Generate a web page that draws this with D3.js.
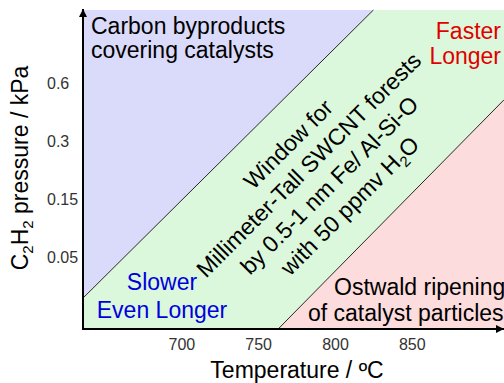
<!DOCTYPE html>
<html>
<head>
<meta charset="utf-8">
<script src="https://cdn.jsdelivr.net/npm/d3@7"></script>
<style>
  body { margin: 0; background: #fff; }
  svg { display: block; font-family: "Liberation Sans", Arial, sans-serif; }
</style>
</head>
<body>
<svg id="chart" width="504" height="383"></svg>
<script>
// growth window for mm-tall SWCNT forests: temperature vs C2H2 pressure
const tempTicks = [700, 750, 800, 850];
const tempRange = [636, 910];
// the pressure labels sit at even steps, so y runs on the label index
const pressureLabels = ["0.05", "0.15", "0.3", "0.6"];
const levelRange = [-1.22, 4.25];
// region edges as [temperature, pressure level]
const byproductEdge = [[636, -0.69], [825, 4.25]];
const ripeningEdge = [[763, -1.22], [910, 2.71]];

class RegimeChart {
  /* ===================================
   *  CONSTRUCTOR
   * =================================== */
  constructor(selector) {
    this.svg = d3.select(selector);
    this.left = 83;
    this.right = 504;
    this.top = 10;
    this.bottom = 329;
    this.big = 23;

    this.x = d3.scaleLinear().domain(tempRange).range([this.left, this.right]);
    this.y = d3.scaleLinear().domain(levelRange).range([this.bottom, this.top]);

    this.DrawRegions();
    this.DrawAxes();
    this.DrawLabels();
  }

  /* ===================================
   *  METHODS
   * =================================== */
  DrawRegions() {
    const [t0, t1] = tempRange;
    const [l0, l1] = levelRange;
    const a = byproductEdge;
    const b = ripeningEdge;

    const regions = [
      { fill: "#dadafa", pts: [[t0, l1], a[0], a[1]] },
      { fill: "#dcf8dc", pts: [[t0, l0], a[0], a[1], [t1, l1], b[1], b[0]] },
      { fill: "#fcdcdc", pts: [b[0], b[1], [t1, l0]] },
    ];

    const line = d3
      .line()
      .x((d) => this.x(d[0]))
      .y((d) => this.y(d[1]));

    this.svg
      .append("g")
      .selectAll("path")
      .data(regions)
      .join("path")
      .attr("d", (d) => line(d.pts) + "Z")
      .attr("fill", (d) => d.fill);

    this.svg
      .append("g")
      .selectAll("path")
      .data([byproductEdge, ripeningEdge])
      .join("path")
      .attr("d", line)
      .attr("fill", "none")
      .attr("stroke", "#111")
      .attr("stroke-width", 0.9);
  }

  DrawAxes() {
    const defs = this.svg.append("defs");
    defs
      .append("marker")
      .attr("id", "arrow")
      .attr("viewBox", "0 0 10 10")
      .attr("refX", 10)
      .attr("refY", 5)
      .attr("markerWidth", 4)
      .attr("markerHeight", 4)
      .attr("orient", "auto")
      .append("path")
      .attr("d", "M0,0L10,5L0,10Z")
      .attr("fill", "#000");

    const xAxis = this.svg
      .append("g")
      .attr("transform", `translate(0,${this.bottom})`)
      .call(d3.axisBottom(this.x).tickValues(tempTicks).tickSize(0).tickPadding(10));
    xAxis.select(".domain").remove();
    xAxis.attr("font-family", null);
    xAxis.selectAll("text").attr("font-size", 16).attr("fill", "#333");

    const yAxis = this.svg
      .append("g")
      .attr("transform", `translate(${this.left},0)`)
      .call(
        d3
          .axisLeft(this.y)
          .tickValues(d3.range(pressureLabels.length))
          .tickFormat((i) => pressureLabels[i])
          .tickSize(0)
      );
    yAxis.select(".domain").remove();
    yAxis.attr("font-family", null).attr("text-anchor", null);
    yAxis
      .selectAll("text")
      .attr("x", -36)
      .attr("text-anchor", "start")
      .attr("font-size", 16)
      .attr("fill", "#333");

    // axis lines with arrow heads
    this.svg
      .append("path")
      .attr("d", `M${this.left},${this.bottom}V${this.top - 1}`)
      .attr("stroke", "#000")
      .attr("stroke-width", 2)
      .attr("marker-end", "url(#arrow)");
    this.svg
      .append("path")
      .attr("d", `M${this.left - 1},${this.bottom}H${this.right}`)
      .attr("stroke", "#000")
      .attr("stroke-width", 2)
      .attr("marker-end", "url(#arrow)");
  }

  DrawLabels() {
    // axis titles
    this.svg
      .append("text")
      .attr("x", 297)
      .attr("y", 378)
      .attr("text-anchor", "middle")
      .attr("font-size", this.big)
      .text("Temperature / ºC");

    const yTitle = this.svg
      .append("text")
      .attr("transform", "translate(28,168) rotate(-90)")
      .attr("text-anchor", "middle")
      .attr("font-size", this.big);
    this.AddFormula(yTitle, [["C"], ["2", true], ["H"], ["2", true], [" pressure / kPa"]]);

    // region notes
    this.Block(91, 34, ["Carbon byproducts", "covering catalysts"], "start", "#000", 24);
    this.Block(501, 39, ["Faster", "Longer"], "end", "#e00000", 25);
    this.Block(162, 290, ["Slower", "Even Longer"], "middle", "#0000dd", 28);
    this.Block(334, 295, ["Ostwald ripening"], "start", "#000", 0);
    this.Block(308, 321, ["of catalyst particles"], "start", "#000", 0);

    // the growth window, written along the band
    const win = this.svg
      .append("text")
      .attr("transform", "translate(320,176) rotate(-45)")
      .attr("text-anchor", "middle")
      .attr("font-size", this.big);
    const rows = [
      [["Window for"]],
      [["Millimeter-Tall SWCNT forests"]],
      [["by 0.5-1 nm Fe/ Al-Si-O"]],
      [["with 50 ppmv H"], ["2", true], ["O"]],
    ];
    rows.forEach((row, i) => {
      const line = win.append("tspan").attr("x", 0).attr("y", -37 + i * 29);
      this.AddFormula(line, row);
    });
  }

  Block(x, y, lines, anchor, color, gap) {
    const t = this.svg
      .append("text")
      .attr("text-anchor", anchor)
      .attr("font-size", this.big)
      .attr("fill", color);
    lines.forEach((s, i) => {
      t.append("tspan").attr("x", x).attr("y", y + i * gap).text(s);
    });
  }

  AddFormula(el, parts) {
    let shift = 0;
    parts.forEach(([s, sub]) => {
      const span = el.append("tspan").text(s);
      if (sub) {
        span.attr("font-size", 15).attr("dy", 5 - shift);
        shift = 5;
      } else {
        if (shift) span.attr("dy", -shift);
        shift = 0;
      }
    });
  }
}

new RegimeChart("#chart");
</script>
</body>
</html>
